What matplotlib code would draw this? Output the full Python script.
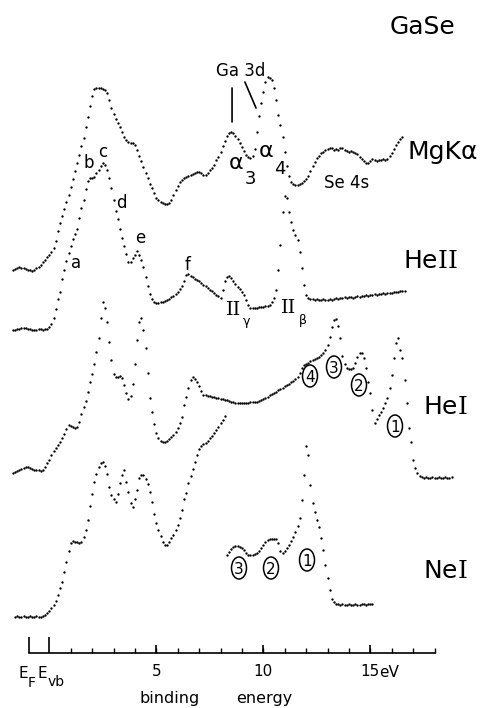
import numpy as np
import matplotlib
matplotlib.use("Agg")
import matplotlib.pyplot as plt
from matplotlib.patches import Ellipse

plt.rcParams["font.family"] = ["DejaVu Sans"]
plt.rcParams["mathtext.fontset"] = "custom"
plt.rcParams["mathtext.rm"] = "DejaVu Serif"
plt.rcParams["mathtext.default"] = "regular"

W, H = 482, 708            # canvas size in pixels (dpi 100)
STEP = 0.1                 # eV between recorded channels
E_FERMI = -0.93            # Fermi level relative to valence-band edge (eV)

# ---------------------------------------------------------------------------
# Photoemission spectra of GaSe, counts (arb. units) per channel of STEP eV
# ---------------------------------------------------------------------------
mgka_e0 = -1.7
mgka_counts = [
    1, 2, 3, 4, 3, 3, 2, 1, 1, 0, 1, 3, 4, 6, 9, 11, 14,
    16, 19, 23, 30, 40, 48, 55, 62, 69, 76,
    84, 92, 100, 108, 116, 125, 133, 144, 154, 165,
    175, 182, 183, 183, 183, 182, 181, 178, 171, 163,
    157, 152, 148, 144, 139, 134, 131, 129, 128, 128,
    126, 121, 115, 110, 104, 98, 93, 87, 83, 78,
    73, 71, 69, 68, 67, 67, 68, 71, 76, 81,
    85, 89, 91, 93, 94, 95, 96, 97, 98, 99,
    99, 98, 96, 96, 98, 101, 103, 106, 111, 114,
    119, 125, 130, 135, 138, 139, 138, 135, 132, 128,
    124, 120, 116, 114, 113, 115, 122, 139, 155, 168,
    179, 189, 194, 193, 191, 183, 171, 156, 146, 134,
    119, 105, 95, 89, 87, 86, 86, 87, 88, 90,
    92, 95, 100, 105, 109, 113, 115, 118, 119, 121,
    122, 123, 123, 121, 122, 121, 123, 123, 121, 120,
    119, 120, 119, 118, 117, 114, 112, 110, 108, 108,
    110, 112, 111, 110, 111, 111, 112, 111, 112, 115,
    118, 122, 126, 129, 132, 134,
]

heii_e0 = -1.7
heii_counts = [
    0, 0, 1, 1, 2, 2, 2, 1, 1, 0, 0, 0, 1, 1, 0, 1, 1,
    3, 6, 12, 21, 31, 38, 51, 60, 69, 77,
    84, 91, 96, 101, 112, 122, 130, 141, 149, 152,
    152, 153, 157, 160, 164, 167, 165, 160, 152, 142,
    130, 119, 111, 101, 92, 84, 76, 68, 68, 72,
    75, 79, 75, 70, 63, 53, 44, 36, 31, 28,
    27, 27, 28, 28, 29, 30, 31, 33, 34, 36,
    38, 41, 44, 49, 55, 56, 54, 53, 51, 50,
    49, 47, 45, 44, 42, 40, 39, 37, 35, 34,
    32, 40, 49, 53, 54, 52, 49, 46, 43, 41,
    38, 35, 30, 25, 22, 22, 22, 22, 23, 23,
    23, 24, 24, 25, 28, 32, 40, 60, 85, 118,
    134, 132, 118, 108, 100, 95, 90, 78, 62, 45,
    35, 32, 31, 31, 30, 31, 30, 30, 31, 30,
    30, 31, 30, 31, 32, 31, 32, 32, 33, 32,
    33, 33, 32, 33, 34, 33, 34, 34, 35, 34,
    35, 35, 36, 35, 36, 36, 37, 36, 37, 37,
    37, 38, 38, 38, 39, 39, 39,
]

hei_e0 = -1.7
hei_counts = [
    5, 6, 7, 8, 9, 10, 11, 11, 10, 9, 8, 8, 8, 7, 8, 11, 15,
    18, 23, 27, 30, 33, 36, 40, 44, 49, 53,
    52, 51, 50, 51, 56, 64, 71, 77, 86, 96,
    104, 114, 126, 140, 160, 176, 170, 156, 136, 118,
    104, 101, 101, 102, 100, 93, 85, 79, 82, 94,
    114, 138, 156, 160, 148, 130, 105, 80, 66, 54,
    45, 40, 37, 36, 36, 37, 39, 41, 43, 46,
    50, 55, 61, 73, 81, 90, 98, 101, 99, 96,
    92, 87, 83, 83, 82, 82, 81, 81, 80, 80,
    79, 79, 78, 78, 77, 76, 76, 75, 75, 75,
    75, 75, 75, 75, 76, 76, 76, 76, 77, 78,
    79, 80, 81, 83, 84, 85, 86, 88, 89, 90,
    92, 93, 94, 96, 97, 99, 101, 105, 110, 113,
    114, 115, 117, 118, 119, 120, 121, 123, 125, 128,
    133, 141, 151, 158, 159, 152, 140, 122, 114, 110,
    109, 109, 110, 115, 121, 125, 125, 120, 110, 96,
    85, 68, 55, 59, 63, 66, 70, 75, 80, 90,
    103, 120, 135, 140, 128, 120, 98, 75, 50, 36,
    18, 10, 5, 2, 1, 0, 1, 0, 0, 1,
    0, 0, 1, 0, 0, 1, 0, 0, 1,
]

# NeI valence region (recorded up to 8.2 eV)
nei_low_e0 = -1.6
nei_low_counts = [
    0, 1, 0, 0, 1, 0, 0, 1, 0, 0, 1, 0, 0, 1, 2, 4,
    6, 9, 12, 16, 22, 29, 35, 45, 55, 66,
    74, 76, 75, 75, 74, 75, 80, 87, 97, 111,
    123, 135, 143, 150, 154, 155, 151, 143, 130, 122,
    118, 115, 123, 134, 142, 147, 135, 125, 114, 110,
    118, 127, 139, 142, 142, 138, 133, 125, 115, 103,
    94, 87, 81, 75, 72, 72, 75, 79, 82, 87,
    92, 99, 107, 118, 124, 134, 141, 148, 155, 162,
    168, 171, 173, 174, 176, 179, 181, 184, 187, 190,
    194, 197, 201,
]

# NeI deeper band (8.3 - 15.1 eV)
nei_high_e0 = 8.3
nei_high_counts = [
    62, 65, 68, 70, 71, 71, 70,
    69, 67, 64, 62, 62, 62, 63, 64, 66, 69,
    72, 75, 77, 78, 78, 78, 78, 74, 66, 64,
    66, 69, 72, 76, 80, 85, 91, 99, 117, 142,
    171, 162, 132, 114, 105, 97, 90, 79, 67, 52,
    39, 27, 18, 15, 13, 13, 12, 13, 12, 12,
    13, 12, 12, 13, 12, 12, 13, 13, 12, 13,
    13, 13,
]

# Vertical placement of each spectrum on the canvas (baseline height)
offsets = {"MgKα": 437, "HeII": 378, "HeI": 230, "NeI": 91}

# Energy axis
minor_ticks = list(range(1, 19))
labelled_ticks = [5, 10, 15]
labelled_tick_text = ["5", "10", "15"]

# ---------------------------------------------------------------------------
EV_PX = 21.4                # pixels per eV
X0_PX = 49.3                # pixel column of the valence-band edge
AXIS_Y = H - 653            # height of the energy axis line

fig = plt.figure(figsize=(W / 100, H / 100), dpi=100)
ax = fig.add_axes([0, 0, 1, 1])
ax.set_xlim(-X0_PX / EV_PX, (W - X0_PX) / EV_PX)
ax.set_ylim(0, H)


def trace(e0, counts, offset):
    e = e0 + STEP * np.arange(len(counts))
    ax.plot(e, offset + np.asarray(counts, dtype=float), ls="none",
            marker="o", ms=1.7, mfc="black", mec="black", mew=0.0)


trace(mgka_e0, mgka_counts, offsets["MgKα"])
trace(heii_e0, heii_counts, offsets["HeII"])
trace(hei_e0, hei_counts, offsets["HeI"])
trace(nei_low_e0, nei_low_counts, offsets["NeI"])
trace(nei_high_e0, nei_high_counts, offsets["NeI"])

# energy axis
for s in ("top", "left", "right"):
    ax.spines[s].set_visible(False)
ax.spines["bottom"].set_position(("data", AXIS_Y))
ax.spines["bottom"].set_bounds(E_FERMI, 18)
ax.spines["bottom"].set_linewidth(1.2)
ax.set_yticks([])
ax.set_xticks([E_FERMI, 0], ["", ""])
ax.set_xticks(minor_ticks, minor=True)
ax.tick_params(axis="x", which="major", direction="in", length=11.5, width=1.2)
ax.tick_params(axis="x", which="minor", direction="in", length=3.6, width=1.0)

sec = ax.secondary_xaxis(AXIS_Y / H)
sec.set_xticks(labelled_ticks, labelled_tick_text)
sec.tick_params(direction="in", length=5.8, width=1.2, labelsize=11, pad=8)
for s in sec.spines.values():
    s.set_visible(False)


def txt(x, y, s, size, ha="center", va="baseline", **kw):
    fig.text(x / W, 1 - y / H, s, fontsize=size, ha=ha, va=va, **kw)


# axis labels
txt(28, 678, "E", 11, ha="right")
txt(28, 687, "F", 10, ha="left")
txt(47, 678, "E", 11, ha="right")
txt(48, 686, "vb", 10, ha="left")
txt(379, 677, "eV", 11, ha="left")
txt(170, 703, "binding", 11.5)
txt(264, 703, "energy", 11.5)

# title and spectrum names
txt(390, 34, "GaSe", 18, ha="left")
txt(407, 159, "MgKα", 18, ha="left")
txt(403, 268, r"He$\mathrm{II}$", 18, ha="left")
txt(423, 414, r"He$\mathrm{I}$", 18, ha="left")
txt(423, 578, r"Ne$\mathrm{I}$", 18, ha="left")

# MgKα annotations
txt(241, 76, "Ga 3d", 12)
txt(347, 188, "Se 4s", 12)
txt(236, 163, "α", 16, va="center")
txt(250, 179, "3", 13, va="center")
txt(266, 151, "α", 16, va="center")
txt(280, 169, "4", 13, va="center")
line_kw = dict(arrowstyle="-", lw=1.2, color="black", shrinkA=0, shrinkB=0)
ax.annotate("", xy=(8.54, H - 122), xytext=(8.54, H - 88), arrowprops=line_kw)
ax.annotate("", xy=(9.66, H - 108), xytext=(9.14, H - 82), arrowprops=line_kw)

# HeII structure labels
for lab, x, y in [("a", 76, 268), ("b", 89, 168), ("c", 103, 157),
                  ("d", 121, 208), ("e", 140, 243), ("f", 188, 270)]:
    txt(x, y, lab, 12)
txt(234, 315, "II", 14, family="DejaVu Serif")
txt(247, 321, "γ", 9, va="center")
txt(289, 313, "II", 14, family="DejaVu Serif")
txt(303, 320, "β", 9, va="center")

# satellite numbering, each digit inside an upright oval
for lab, x, y in [("4", 310, 376), ("3", 334, 367), ("2", 359, 385),
                  ("1", 395, 426), ("3", 239, 568), ("2", 271, 568),
                  ("1", 307, 560)]:
    txt(x, y, lab, 11, va="center_baseline")
    fig.add_artist(Ellipse((x / W, 1 - y / H), 15 / W, 22 / H,
                           transform=fig.transFigure, fill=False,
                           ec="black", lw=1.1))

fig.savefig("out.png", dpi=100, facecolor="white")
